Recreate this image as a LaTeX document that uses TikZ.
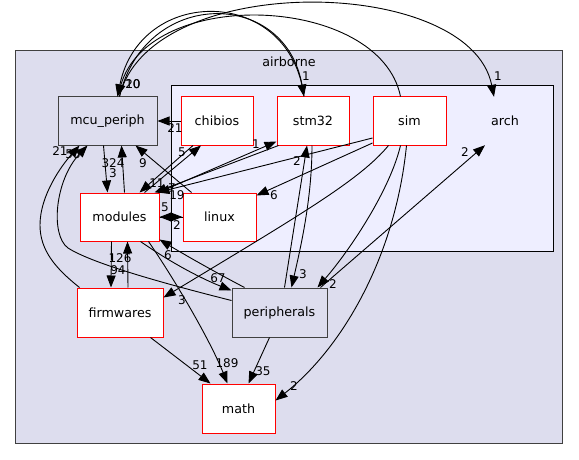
\documentclass[tikz,border=0pt]{standalone}
\usepackage{fontspec}
\setmainfont{DejaVu Sans}
\usetikzlibrary{arrows.meta}
\definecolor{clusterbg}{HTML}{DDDDEE}
\definecolor{innerbg}{HTML}{EEEEFF}
\definecolor{darkedge}{HTML}{404040}
\newcommand\mynodefont{\fontsize{12.7}{15}\selectfont}
\newcommand\mylblfont{\fontsize{12}{14}\selectfont}
\begin{document}
\begin{tikzpicture}[x=1pt,y=-1pt,
  dirred/.style={draw=red, fill=white, line width=1pt, minimum height=48pt, inner sep=0pt, font=\mynodefont},
  dirgray/.style={draw=darkedge, fill=clusterbg, line width=1pt, minimum height=48pt, inner sep=0pt, font=\mynodefont},
  plainnode/.style={inner sep=0pt, font=\mynodefont},
  dep/.style={line width=0.9pt, -{Triangle[length=12pt,width=9pt]}},
  lbl/.style={font=\mylblfont, inner sep=0pt}]
\useasboundingbox (0,0) rectangle (579,460);
% clusters
\draw[fill=clusterbg, draw=darkedge, line width=1pt] (15.5,50.5) rectangle (562.5,443.5);
\node[plainnode] (airborne) at (289,62) {airborne};
\draw[fill=innerbg, draw=black, line width=1pt] (171,86) rectangle (553,251);
% nodes
\node[dirgray, minimum width=99pt] (mcu) at (107.5,121) {mcu\_periph};
\node[dirred, minimum width=72pt] (chibios) at (217,121) {chibios};
\node[dirred, minimum width=72pt] (stm32) at (313,121) {stm32};
\node[dirred, minimum width=73pt] (sim) at (409.5,121) {sim};
\node[plainnode, minimum width=78pt, minimum height=48pt] (arch) at (505,121) {arch};
\node[dirred, minimum width=79pt] (modules) at (119.5,217) {modules};
\node[dirred, minimum width=73pt] (linux) at (219.5,217) {linux};
\node[dirred, minimum width=86pt, minimum height=49pt] (firm) at (120,312.5) {firmwares};
\node[dirgray, minimum width=95pt, minimum height=49pt] (peri) at (279.5,312.5) {peripherals};
\node[dirred, minimum width=73pt, minimum height=49pt] (math) at (238.5,408.5) {math};
% top arcs
\draw[dep] ([xshift=-9pt]stm32.north) .. controls (290,-15) and (140,-15) .. ([xshift=10pt]mcu.north) node[lbl, at={(133,84)}] (l20) {20};
\draw[dep] ([xshift=12pt]mcu.north) .. controls (145,-12) and (285,-12) .. ([xshift=-9pt]stm32.north) node[lbl, at={(306,76)}] (l1a) {1};
\draw[dep] ([xshift=-9pt]sim.north) .. controls (380,-5) and (150,-15) .. ([xshift=10pt]mcu.north) node[lbl, at={(133,84)}] (l10) {10};
\draw[dep] ([xshift=12pt]mcu.north) .. controls (150,-30) and (470,-25) .. ([xshift=-11pt]arch.north) node[lbl, at={(498,76)}] (l1b) {1};
% around mcu_periph
\draw[dep] (chibios.west) -- (mcu.east) node[lbl, at={(175,128)}] (l21a) {21};
\draw[dep] ([xshift=-4pt]mcu.south) -- ([xshift=-12pt]modules.north) node[lbl, at={(113,173)}] (l3a) {3};
\draw[dep] ([xshift=5pt]modules.north) -- ([xshift=14pt]mcu.south) node[lbl, at={(113,163)}] (l324) {324};
\draw[dep] ([xshift=9pt]linux.north west) -- ([xshift=-22pt]mcu.south east) node[lbl, at={(143,163)}] (l9) {9};
\draw[dep] ([xshift=3pt]firm.north west) .. controls (55,268) and (40,250) .. (40,225) .. controls (40,195) and (62,165) .. ([xshift=22pt]mcu.south west) node[lbl, at={(60,151)}] (l21b) {21};
\draw[dep] ([yshift=12pt]peri.west) .. controls (150,280) and (90,262) .. (68,248) .. controls (50,235) and (55,180) .. ([xshift=30pt]mcu.south west) node[lbl, at={(73,154)}] (l56) {56};
% into / out of modules from arch
\draw[dep] ([xshift=-24pt]chibios.south) -- ([xshift=20pt]modules.north) node[lbl, at={(157,183)}] (l11) {11};
\draw[dep] ([xshift=25pt]modules.north) -- ([xshift=-16pt]chibios.south) node[lbl, at={(182,152)}] (l5a) {5};
\draw[dep] ([xshift=-1pt]modules.north east) -- ([yshift=4pt]stm32.south west) node[lbl, at={(256,144)}] (l1c) {1};
\draw[dep] ([xshift=2pt]stm32.south west) -- ([xshift=-5pt]modules.north east) node[lbl, at={(172,188)}] (l7) {7};
\draw[dep] ([yshift=-17pt]sim.west) -- ([xshift=-2pt]modules.north east) node[lbl, at={(177,195)}] (l19) {19};
\draw[dep] (modules.east) -- (linux.west) node[lbl, at={(177,225)}] (l2a) {2};
\draw[dep] (linux.west) -- (modules.east) node[lbl, at={(165,207)}] (l5b) {5};
\draw[dep] ([yshift=-22pt]sim.west) -- ([yshift=-3pt]linux.north east) node[lbl, at={(274,195)}] (l6a) {6};
\draw[dep] ([xshift=-21pt]sim.south) .. controls (360,180) and (300,215) .. ([yshift=15pt]firm.east) node[lbl, at={(182,300)}] (l3b) {3};
% lower part
\draw[dep] ([xshift=-8pt]modules.south) -- ([xshift=-9pt]firm.north) node[lbl, at={(120,258)}] (l126) {126};
\draw[dep] ([xshift=8pt]firm.north) -- ([xshift=8pt]modules.south) node[lbl, at={(118,270)}] (l94) {94};
\draw[dep] ([xshift=-19pt]modules.south east) .. controls (170,262) and (200,278) .. ([yshift=-3pt]peri.north west) node[lbl, at={(218,278)}] (l67) {67};
\draw[dep] ([xshift=13pt]peri.north west) .. controls (215,272) and (185,255) .. ([yshift=2pt]modules.south east) node[lbl, at={(168,255)}] (l6b) {6};
\draw[dep] ([xshift=-11pt]modules.south east) .. controls (175,280) and (210,340) .. ([xshift=-11pt]math.north) node[lbl, at={(227,363)}] (l189) {189};
\draw[dep] ([xshift=-13pt]firm.south east) -- ([xshift=9pt]math.north west) node[lbl, at={(200,365)}] (l51) {51};
\draw[dep] ([xshift=-10pt]peri.south) -- ([xshift=10pt]math.north) node[lbl, at={(263,371)}] (l35) {35};
\draw[dep] ([xshift=-3pt]sim.south) .. controls (395,260) and (340,350) .. ([yshift=8pt]math.east) node[lbl, at={(294,386)}] (l2b) {2};
\draw[dep] ([xshift=-1pt]stm32.south) .. controls (312,200) and (300,250) .. ([xshift=12pt]peri.north) node[lbl, at={(303,274)}] (l3c) {3};
\draw[dep] ([xshift=5pt]peri.north) -- ([xshift=-6pt]stm32.south) node[lbl, at={(297,161)}] (l2c) {2};
\draw[dep] ([xshift=-9pt]sim.south) .. controls (390,190) and (350,250) .. ([xshift=-10pt]peri.north east) node[lbl, at={(333,284)}] (l2d) {2};
\draw[dep] ([xshift=-7pt]peri.north east) -- ([xshift=-20pt]arch.south) node[lbl, at={(465,152)}] (l2e) {2};
\end{tikzpicture}
\end{document}
